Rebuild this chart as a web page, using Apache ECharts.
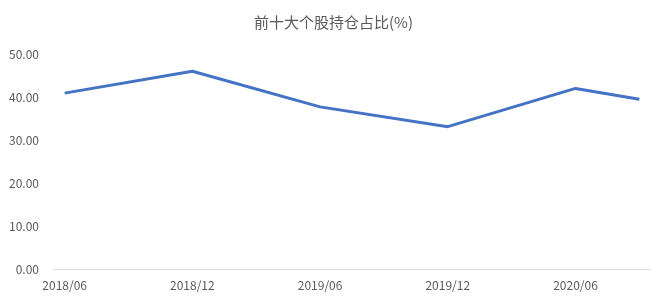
<!DOCTYPE html>
<html>
<head>
<meta charset="utf-8">
<script src="https://cdn.jsdelivr.net/npm/echarts@6/dist/echarts.min.js"></script>
<style>html,body{margin:0;padding:0;background:#fff;}#c{width:667px;height:303px;}</style>
</head>
<body>
<div id="c"></div>
<script>
// Reporting dates and values
const dates = ['2018/06', '2018/12', '2019/06', '2019/12', '2020/06', '2020/09'];
const values = [40.9, 46.0, 37.7, 33.1, 42.0, 39.5];
const yTicks = [0, 10, 20, 30, 40, 50];

// Build a monthly category axis spanning the reported dates
function toMonths(a, b) {
  const [ya, ma] = a.split('/').map(Number);
  const [yb, mb] = b.split('/').map(Number);
  const out = [];
  let y = ya, m = ma;
  while (y < yb || (y === yb && m <= mb)) {
    out.push(y + '/' + String(m).padStart(2, '0'));
    m++; if (m > 12) { m = 1; y++; }
  }
  return out;
}
const months = toMonths(dates[0], dates[dates.length - 1]);
const seriesData = months.map(mo => {
  const i = dates.indexOf(mo);
  return i >= 0 ? values[i] : null;
});

const chart = echarts.init(document.getElementById('c'));
const font = '"Noto Sans CJK SC", "Noto Sans", sans-serif';
chart.setOption({
  animation: false,
  title: {
    text: '前十大个股持仓占比(%)',
    left: 'center', top: 10,
    textStyle: { fontFamily: font, fontSize: 15, fontWeight: 'normal', color: '#595959' }
  },
  grid: { left: 54, right: 17, top: 54, bottom: 34 },
  xAxis: {
    type: 'category',
    data: months,
    boundaryGap: true,
    axisLine: { lineStyle: { color: '#d9d9d9', width: 1 } },
    axisTick: { interval: 5, length: 4, lineStyle: { color: '#d9d9d9' } },
    axisLabel: { interval: 5, margin: 10, color: '#595959', fontSize: 12, fontFamily: font }
  },
  yAxis: {
    type: 'value',
    min: yTicks[0], max: yTicks[yTicks.length - 1], interval: 10,
    axisLine: { show: false },
    axisTick: { show: false },
    splitLine: { show: false },
    axisLabel: { margin: 15, color: '#595959', fontSize: 12, fontFamily: font,
      formatter: v => v.toFixed(2) }
  },
  series: [{
    type: 'line',
    data: seriesData,
    connectNulls: true,
    showSymbol: false,
    symbol: 'none',
    lineStyle: { color: '#4472C4', width: 3 }
  }]
});
</script>
</body>
</html>
